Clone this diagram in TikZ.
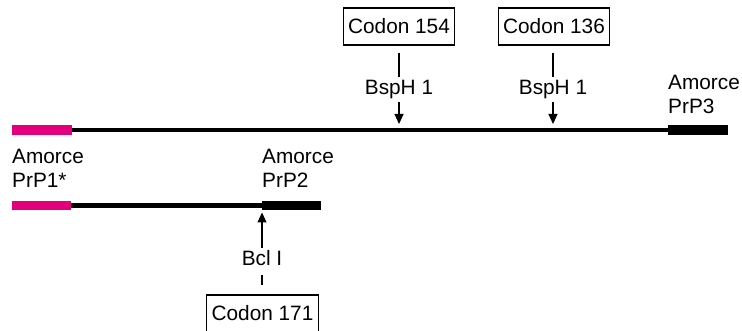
\documentclass[tikz,border=0pt]{standalone}
\usepackage{fontspec}
\setmainfont{Liberation Sans}
\usetikzlibrary{arrows.meta, positioning}
\definecolor{primerpink}{RGB}{228,0,124}

\begin{document}
\begin{tikzpicture}[x=1pt, y=-1pt,
        codon/.style={rectangle, draw=black, line width=1.1pt, inner xsep=5pt, minimum height=37pt, font=\fontsize{20.8}{24}\selectfont},
        site/.style={inner sep=3pt, font=\fontsize{20.8}{24}\selectfont},
        amorce/.style={inner sep=0pt, anchor=north west, align=left, font=\fontsize{20.8}{24}\selectfont},
        strand/.style={line width=4.2pt, draw=black},
        pinkend/.style={line width=9.5pt, draw=primerpink},
        blackend/.style={line width=9.5pt, draw=black},
        tick/.style={line width=1.1pt, draw=black},
        cut/.style={line width=1.1pt, draw=black, -{Triangle[length=10pt, width=9pt]}}
    ]

        \useasboundingbox (0,0) rectangle (742,331);

        % ----------------------------------------------------
        % STRANDS
        % ----------------------------------------------------
        % Upper strand
        \coordinate (top1) at (12,130);
        \coordinate (top2) at (72,130);
        \coordinate (top3) at (668,130);
        \coordinate (top4) at (728,130);
        \draw[strand] (top2) -- (top3);
        \draw[pinkend] (top1) -- (top2);
        \draw[blackend] (top3) -- (top4);

        % Lower strand
        \coordinate (low1) at (12,205.5);
        \coordinate (low2) at (71,205.5);
        \coordinate (low3) at (262,205.5);
        \coordinate (low4) at (321,205.5);
        \draw[strand] (low2) -- (low3);
        \draw[pinkend] (low1) -- (low2);
        \draw[blackend] (low3) -- (low4);

        % ----------------------------------------------------
        % PRIMER LABELS
        % ----------------------------------------------------
        \node[amorce] (prp1) at (12,149) {Amorce\\PrP1*};
        \node[amorce] (prp2) at (262,149) {Amorce\\PrP2};
        \node[amorce] (prp3) at (668,75) {Amorce\\PrP3};

        % ----------------------------------------------------
        % RESTRICTION SITES
        % ----------------------------------------------------
        % BspH 1 (top)
        \node[codon] (codon154) at (399,26.5) {Codon 154};
        \node[site] (bsp154) at (399,89.5) {BspH 1};
        \coordinate (hit154) at (399,124);
        \draw[tick, shorten <=7pt] (codon154) -- (bsp154);
        \draw[cut] (bsp154) -- (hit154);

        \node[codon] (codon136) at (554,26.5) {Codon 136};
        \node[site] (bsp136) at (553,89.5) {BspH 1};
        \coordinate (hit136) at (553,124);
        \draw[tick, shorten <=7pt] (codon136.south -| bsp136) -- (bsp136);
        \draw[cut] (bsp136) -- (hit136);

        % Bcl I (bottom)
        \node[codon] (codon171) at (262.5,313.5) {Codon 171};
        \node[site] (bcl171) at (262,258.4) {Bcl I};
        \coordinate (hit171) at (262,212.5);
        \draw[tick, shorten <=6pt, shorten >=9pt] (bcl171) -- (codon171.north -| bcl171);
        \draw[cut] (bcl171) -- (hit171);

\end{tikzpicture}
\end{document}
